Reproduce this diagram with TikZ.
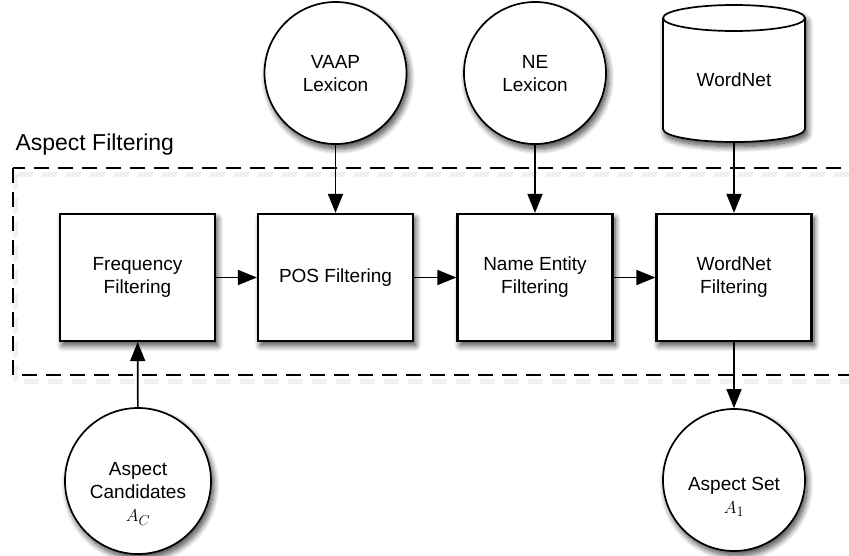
\documentclass[tikz,border=0pt]{standalone}
\usepackage{fontspec}
\setmainfont{Liberation Sans}
\usetikzlibrary{shadows.blur,arrows.meta}
\begin{document}
\begin{tikzpicture}[x=1pt,y=-1pt,
  every node/.style={font=\fontsize{19}{23}\selectfont},
  softshadow/.style={blur shadow={shadow xshift=2.5pt,shadow yshift=-4.5pt,
      shadow blur radius=6pt,shadow blur steps=10,shadow opacity=75}},
  stagebox/.style={draw,line width=2.2pt,fill=white,minimum width=155pt,
      minimum height=127pt,align=center,inner sep=0pt,softshadow},
  sourcecircle/.style={circle,draw,line width=1.7pt,fill=white,
      minimum size=142pt,inner sep=0pt,softshadow},
  flow/.style={line width=1.6pt,
      -{Triangle[length=19pt,width=15pt,fill=black,line join=miter]}},
  groupframe/.style={line width=1.6pt,dash pattern=on 15pt off 9pt},
  plaintext/.style={align=center,inner sep=0pt}
]
\useasboundingbox (0,0) rectangle (849,555);
\clip (0,0) rectangle (849,555);

% group frame with a faint shadow
\draw[groupframe,gray!40,line width=5pt,opacity=0.3] (15,174) rectangle (885,381);
\draw[groupframe] (13,168) rectangle (880,375);
\node[anchor=base west,font=\fontsize{23}{27}\selectfont] (grouptitle) at (12,150) {Aspect Filtering};

% filtering stages
\node[stagebox] (freq) at (137.5,277.5) {Frequency\\Filtering};
\node[stagebox] (pos)  at (335.5,277.5) {POS Filtering};
\node[stagebox] (ne)   at (535,277.5)   {Name Entity\\Filtering};
\node[stagebox] (wnf)  at (734,277.5)   {WordNet\\Filtering};

% lexicons
\node[sourcecircle] (vaap) at (335.5,73) {};
\node[plaintext] (vaaptext) at (335.5,74) {VAAP\\Lexicon};
\node[sourcecircle] (nelex) at (535,73) {};
\node[plaintext] (nelextext) at (535,74) {NE\\Lexicon};

% WordNet database cylinder
\path[draw,line width=1.7pt,fill=white,softshadow]
  (663,18) -- (663,129) arc[start angle=180,end angle=0,x radius=71,y radius=13]
  -- (805,18) arc[start angle=0,end angle=-180,x radius=71,y radius=13] -- cycle;
\draw[line width=1.7pt] (663,18) arc[start angle=180,end angle=0,x radius=71,y radius=13];
\node[inner sep=0pt,minimum width=142pt,minimum height=138pt] (wordnet) at (734,74) {};
\node[plaintext] (wordnettext) at (734,80) {WordNet};

% input and output sets
\node[sourcecircle,minimum size=146pt] (cand) at (138,481) {};
\node[plaintext] (candtext) at (138,494) {Aspect\\Candidates\\$A_C$};
\node[sourcecircle] (aset) at (734,480) {};
\node[plaintext] (asettext) at (734,497) {Aspect Set\\$A_1$};

% connectors
\draw[flow] (freq) -- (pos);
\draw[flow] (pos) -- (ne);
\draw[flow] (ne) -- (wnf);
\draw[flow] (vaap) -- (pos);
\draw[flow] (nelex) -- (ne);
\draw[flow] (wordnet.south) -- (wnf);
\draw[flow] (cand) -- (freq);
\draw[flow] (wnf) -- (aset);
\end{tikzpicture}
\end{document}
